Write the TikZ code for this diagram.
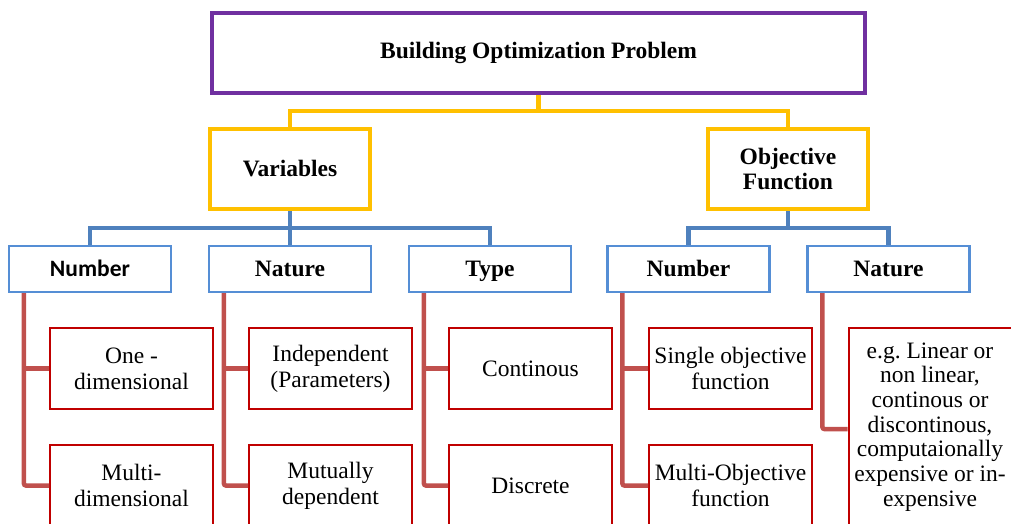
\documentclass[tikz,border=0pt]{standalone}
\usepackage{fontspec}
\setmainfont{Liberation Serif}
\newfontfamily\calibri{Carlito}
\frenchspacing
\definecolor{rootpurple}{HTML}{7030A0}
\definecolor{gold}{HTML}{FFC000}
\definecolor{linkblue}{HTML}{4F81BD}
\definecolor{boxblue}{HTML}{558ED5}
\definecolor{linkred}{HTML}{C0504D}
\definecolor{boxred}{HTML}{C00000}
\tikzset{
  txt/.style={font=\rmfamily\fontsize{23.5}{26}\selectfont, align=center, inner sep=0pt},
  rootbox/.style={txt, draw=rootpurple, line width=4pt, font=\rmfamily\fontsize{23.5}{26}\selectfont\bfseries,
    minimum width=653pt, minimum height=80pt},
  mainbox/.style={txt, draw=gold, line width=4pt, font=\rmfamily\fontsize{23.5}{25}\selectfont\bfseries,
    minimum width=160pt, minimum height=80pt},
  catbox/.style={txt, draw=boxblue, line width=2.2pt, font=\rmfamily\fontsize{23.5}{26}\selectfont\bfseries,
    minimum width=162pt, minimum height=46pt, text height=17pt, text depth=3pt},
  leafbox/.style={txt, draw=boxred, line width=2pt, minimum width=163pt, minimum height=81pt},
  goldlink/.style={draw=gold, line width=4.5pt},
  bluelink/.style={draw=linkblue, line width=4.5pt},
  redlink/.style={draw=linkred, line width=4.5pt, rounded corners=2pt},
}
\begin{document}
\begin{tikzpicture}[x=1pt, y=-1pt]
\useasboundingbox (0,0) rectangle (1011,524);
\clip (0,0) rectangle (1011,524);

% top level
\node[rootbox] (root) at (538.5,53) {Building Optimization Problem};

% second level
\node[mainbox] (var) at (290,169) {Variables};
\node[mainbox] (obj) at (788,169) {Objective\\Function};

% categories
\node[catbox] (vnum)  at (90,269)    {\calibri\bfseries Number};
\node[catbox] (vnat)  at (290,269)   {Nature};
\node[catbox] (vtyp)  at (490,269)   {Type};
\node[catbox] (onum)  at (688.5,269) {Number};
\node[catbox] (onat)  at (888.5,269) {Nature};

% leaves
\node[leafbox] (one)   at (131.5,368.5) {One -\\dimensional};
\node[leafbox] (multi) at (131.5,485.5) {Multi-\\dimensional};
\node[leafbox] (indep) at (330.5,368.5) {Independent\\(Parameters)};
\node[leafbox] (mutu)  at (330.5,485.5) {Mutually\\dependent};
\node[leafbox] (cont)  at (530.5,368.5) {Continous};
\node[leafbox] (disc)  at (530.5,485.5) {Discrete};
\node[leafbox] (single) at (730.5,368.5) {Single objective\\function};
\node[leafbox] (mobj)   at (730.5,485.5) {Multi-Objective\\function};
\node[leafbox, minimum height=198pt, font=\rmfamily\fontsize{23.5}{24.7}\selectfont] (ofn) at (930,427)
  {e.g. Linear or\\non linear,\\continous or\\discontinous,\\computaionally\\expensive or in-\\expensive};

% gold connectors
\coordinate (gj) at (538.5,111);
\draw[goldlink] (root.south) -- (gj);
\draw[goldlink] (var.north) |- (obj.north |- gj) -- (obj.north);

% blue connectors
\coordinate (bj1) at (290,228);
\coordinate (bj2) at (788,228);
\draw[bluelink] (var.south) -- (bj1);
\draw[bluelink] (vnum.north) |- (vtyp.north |- bj1) -- (vtyp.north);
\draw[bluelink] (vnat.north) -- (bj1);
\draw[bluelink] (obj.south) -- (bj2);
\draw[bluelink] (onum.north) |- (onat.north |- bj2) -- (onat.north);

% red connectors
\foreach \cat/\up/\down in {vnum/one/multi, vnat/indep/mutu, vtyp/cont/disc, onum/single/mobj}{
  \draw[redlink] ([xshift=16pt]\cat.south west) |- (\down.west);
  \draw[redlink] ([xshift=16pt]\cat.south west |- \up.west) -- (\up.west);
}
\draw[redlink] ([xshift=16pt]onat.south west) |- (ofn.west |- 0,429);
\end{tikzpicture}
\end{document}
